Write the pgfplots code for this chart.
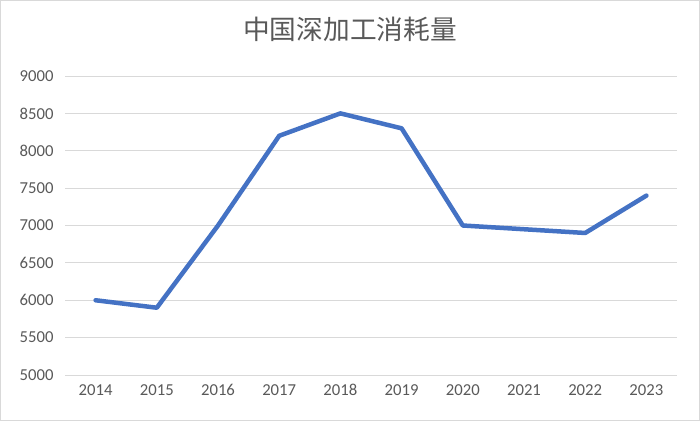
\documentclass[border=0pt]{standalone}
\usepackage{fontspec}
\setmainfont{Carlito}
\newfontfamily\cjk{Noto Sans CJK SC}
\usepackage{pgfplots}
\pgfplotsset{compat=1.18}
\definecolor{lineblue}{HTML}{4472C4}
\definecolor{gridgray}{HTML}{D9D9D9}
\definecolor{textgray}{HTML}{595959}

\begin{document}
\begin{tikzpicture}[x=1pt,y=1pt]
% whole picture: 700 x 421, plot box starts at (65,46) from bottom left
\path[use as bounding box] (-65,-46) rectangle (635,375);
\draw[gridgray, line width=1.5pt] (-64.25,-45.25) rectangle (634.25,374.25);
\begin{axis}[
    at={(0,0)}, anchor=south west,
    scale only axis,
    width=612pt, height=299pt,
    xmin=2013.5, xmax=2023.5,
    ymin=5000, ymax=9000,
    xtick={2014,2015,...,2023},
    ytick={5000,5500,...,9000},
    axis line style={draw=none},
    major tick style={draw=none},
    ymajorgrids=true,
    grid style={gridgray, line width=1pt},
    ticklabel style={textgray, font=\fontsize{16.7}{18}\selectfont},
    /pgf/number format/assume math mode=true,
    /pgf/number format/1000 sep={},
    yticklabel style={xshift=-8pt},
    xticklabel style={yshift=-6pt},
    title={\cjk 中国深加工消耗量},
    title style={at={(axis description cs:0.4657,1)}, anchor=center,
        yshift=41pt, textgray, font=\cjk\fontsize{26.7}{30}\selectfont},
]
\addplot[lineblue, line width=4.5pt, line join=round, line cap=round]
    coordinates {
    (2014,6000)(2015,5900)(2016,7000)(2017,8200)(2018,8500)
    (2019,8300)(2020,7000)(2021,6950)(2022,6900)(2023,7400)
    };
\end{axis}
\end{tikzpicture}
\end{document}
